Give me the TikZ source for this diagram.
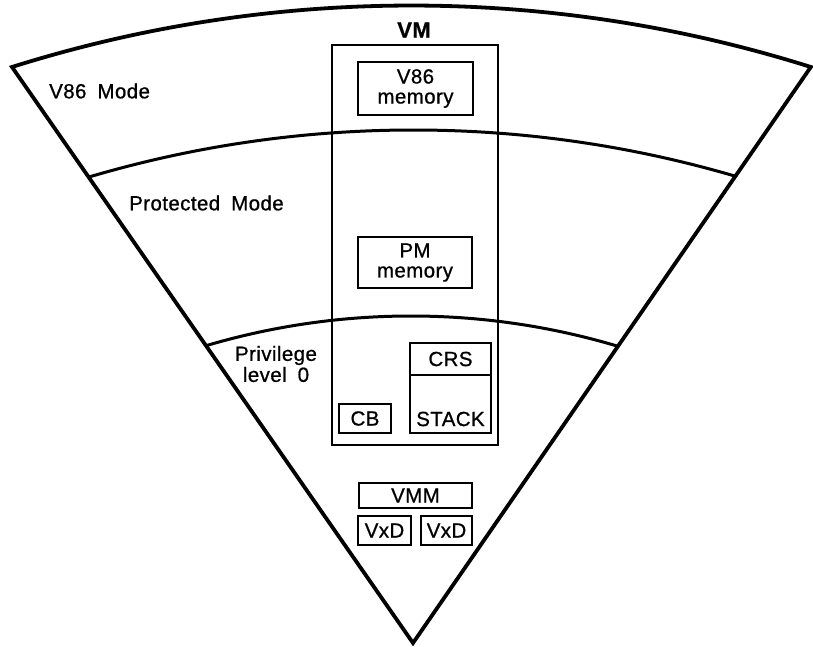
\documentclass[tikz,border=0pt]{standalone}
\usepackage{fontspec}
\setmainfont{Liberation Sans}[LetterSpace=2,WordSpace=1.8,FakeBold=0.8]
\usetikzlibrary{calc}
\begin{document}
\begin{tikzpicture}[x=1pt,y=1pt,
  fanline/.style={line width=3.8pt,line join=miter},
  ringline/.style={line width=3pt},
  vmbox/.style={draw,line width=2pt,inner sep=0pt},
  box/.style={draw,line width=2.6pt,inner sep=0pt,align=center,
    font=\fontsize{20.5}{20}\selectfont},
  lbl/.style={inner sep=0pt,align=center,font=\fontsize{20.5}{21}\selectfont}]

% page area
\fill[white] (0,0) rectangle (813,-647);
\path[use as bounding box] (0,0) rectangle (813,-647);

% corners of the fan
\coordinate (apex) at (413,-643);
\coordinate (L) at (12,-67);

% ring boundaries, clipped to the wedge
\begin{scope}
  \clip (apex) -- ($(apex)!1.2!(L)$) -- ($(apex)!1.2!(811,-66)$) -- cycle;
  \draw[ringline] (413.5,-1273.7) ++(110:1143.7pt)
    arc[start angle=110,end angle=70,radius=1143.7pt];
  \draw[ringline] (411,-1038.3) ++(110:722.3pt)
    arc[start angle=110,end angle=70,radius=722.3pt];
\end{scope}

% outer fan
\draw[fanline] (L) arc[start angle=107.5,end angle=72.5,radius=1328.3pt]
  coordinate (R) -- (apex) -- cycle;

% region labels
\node[lbl,anchor=west] (v86mode) at (49,-91) {V86 Mode};
\node[lbl,anchor=west] (pmode) at (129,-203) {Protected Mode};
\node[lbl] (priv) at (276,-364) {Privilege\\level 0};

% virtual machine
\node[inner sep=0pt,font=\fontsize{22}{22}\selectfont\bfseries] (vmlabel) at (414,-30) {VM};
\node[vmbox,minimum width=166,minimum height=400] (vm) at (415,-245) {};

\node[box,minimum width=115,minimum height=53] (v86mem) at (415.5,-88.5) {V86\\memory};
\node[box,minimum width=114,minimum height=51] (pmmem) at (415,-262.5) {PM\\memory};

\node[box,minimum width=81,minimum height=32] (crs) at (450.5,-359) {CRS};
\node[box,minimum width=81,minimum height=58] (stack) at (450.5,-404) {};
\node[lbl] (stacklbl) at (450.5,-419) {STACK};
\node[box,minimum width=52,minimum height=29] (cb) at (365,-418.5) {CB};

% ring 0 components
\node[box,minimum width=113,minimum height=25] (vmm) at (415.5,-495.5) {VMM};
\node[box,minimum width=53,minimum height=29] (vxda) at (384.5,-530.5) {VxD};
\node[box,minimum width=51,minimum height=29] (vxdb) at (446.5,-530.5) {VxD};

\end{tikzpicture}
\end{document}
